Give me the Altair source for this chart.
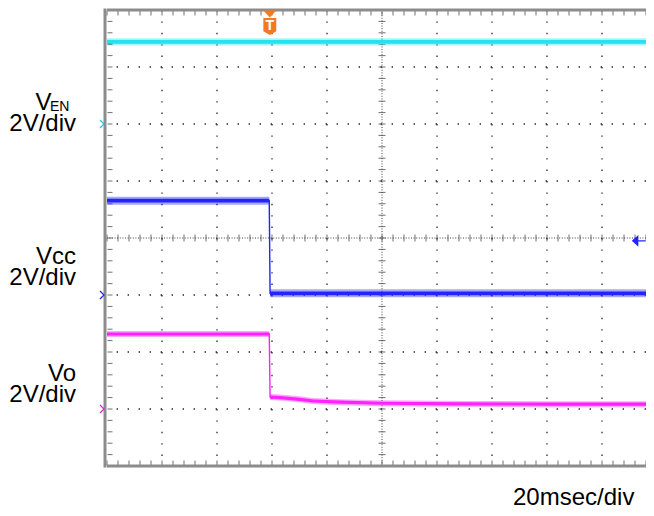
import altair as alt
import pandas as pd

# ---------------- data (time in ms, 20 ms/div; voltage in V, 2 V/div) ----------------
T_MAX = 196.0
ven_t = [0.0, 196.0]
ven_v = [6.88, 6.88]
vcc_t = [0.0, 59.0, 59.3, 196.0]
vcc_v = [1.31, 1.31, -1.94, -1.94]
vo_t = [0.0, 59.0, 59.3, 63.0, 70.0, 75.0, 85.0, 100.0, 130.0, 160.0, 196.0]
vo_v = [-3.37, -3.37, -5.58, -5.60, -5.66, -5.72, -5.76, -5.80, -5.82, -5.83, -5.83]

ground_levels = [4.0, -2.0, -6.0]          # channel zero markers (VEN, Vcc, Vo)
trigger_time = 59.2
trigger_level = -0.1

grid_t = [20, 40, 60, 80, 120, 140, 160, 180]
grid_v = [-6, -4, -2, 2, 4, 6]
center_t = 100
center_v = 0
minor_t = [4 * i for i in range(50)]
minor_v = [round(-8 + 0.4 * i, 2) for i in range(41)]

# ---------------- scales ----------------
xs = alt.Scale(domain=[0, T_MAX], nice=False, zero=False)
ys = alt.Scale(domain=[-8, 8], nice=False, zero=False)


def X(f):
    return alt.X(f, type="quantitative", scale=xs, axis=None)


def Y(f):
    return alt.Y(f, type="quantitative", scale=ys, axis=None)


FONT = "Liberation Sans"
DOT = "#262626"
BORDER = "#8c8c8c"

layers = []

# grid dots
layers.append(alt.Chart(pd.DataFrame({"t": grid_t})).mark_rule(
    color=DOT, strokeWidth=1.3, strokeDash=[1.4, 10.0]).encode(x=X("t")))
layers.append(alt.Chart(pd.DataFrame({"v": grid_v})).mark_rule(
    color=DOT, strokeWidth=1.3, strokeDash=[1.4, 9.6]).encode(y=Y("v")))
# centre lines
layers.append(alt.Chart(pd.DataFrame({"t": [center_t]})).mark_rule(
    color="#444444", strokeWidth=1, strokeDash=[1, 1.6]).encode(x=X("t")))
layers.append(alt.Chart(pd.DataFrame({"v": [center_v]})).mark_rule(
    color="#444444", strokeWidth=1, strokeDash=[1, 1.6]).encode(y=Y("v")))
# centre cross ticks
layers.append(alt.Chart(pd.DataFrame({"t": minor_t, "v": [center_v] * len(minor_t)})).mark_tick(
    color="#333333", orient="vertical", size=7, thickness=1).encode(x=X("t"), y=Y("v")))
layers.append(alt.Chart(pd.DataFrame({"v": minor_v, "t": [center_t] * len(minor_v)})).mark_tick(
    color="#333333", orient="horizontal", size=7, thickness=1).encode(y=Y("v"), x=X("t")))


# traces: a soft noise band, a solid core and a thin centre line
def trace(ts, vs, color, w_out, w_in):
    df = pd.DataFrame({"t": ts, "v": vs})
    df["lo_o"] = df["v"] - w_out
    df["hi_o"] = df["v"] + w_out
    df["lo_i"] = df["v"] - w_in
    df["hi_i"] = df["v"] + w_in
    base = alt.Chart(df)
    outer = base.mark_area(color=color, opacity=0.4).encode(
        x=X("t"), y=Y("lo_o"), y2="hi_o")
    inner = base.mark_area(color=color, opacity=1).encode(
        x=X("t"), y=Y("lo_i"), y2="hi_i")
    line = base.mark_line(color=color, strokeWidth=1.4).encode(x=X("t"), y=Y("v"))
    return [outer, inner, line]


layers += trace(ven_t, ven_v, "#22e3ee", 0.125, 0.065)
layers += trace(vcc_t, vcc_v, "#2424ff", 0.14, 0.065)
layers += trace(vo_t, vo_v, "#ff22ff", 0.105, 0.055)

# border ticks (inside)
layers.append(alt.Chart(pd.DataFrame({"t": minor_t, "v": [8] * len(minor_t)})).mark_tick(
    color="#333333", orient="vertical", size=5, thickness=1, yOffset=3).encode(x=X("t"), y=Y("v")))
layers.append(alt.Chart(pd.DataFrame({"t": minor_t, "v": [-8] * len(minor_t)})).mark_tick(
    color="#333333", orient="vertical", size=5, thickness=1, yOffset=-3).encode(x=X("t"), y=Y("v")))
layers.append(alt.Chart(pd.DataFrame({"v": minor_v, "t": [0] * len(minor_v)})).mark_tick(
    color="#333333", orient="horizontal", size=5, thickness=1, xOffset=3).encode(y=Y("v"), x=X("t")))

# frame
hframe = pd.DataFrame({"t0": [0, 0], "t1": [T_MAX, T_MAX], "v": [8, -8], "off": [-1, 1]})
layers.append(alt.Chart(hframe).mark_rule(color=BORDER, strokeWidth=3).encode(
    x=X("t0"), x2="t1:Q", y=Y("v"), yOffset=alt.YOffset("off:Q", scale=None)))
vframe = pd.DataFrame({"t": [0], "v0": [-8.05], "v1": [8.05]})
layers.append(alt.Chart(vframe).mark_rule(color=BORDER, strokeWidth=3, xOffset=-2).encode(
    x=X("t"), y=Y("v0"), y2="v1:Q"))

# ground markers
gm = pd.DataFrame({"v": ground_levels, "c": ["VEN", "Vcc", "Vo"], "t": [0, 0, 0]})
layers.append(alt.Chart(gm).mark_point(
    shape="M-0.5,-1L0.5,0L-0.5,1", filled=False, strokeWidth=1.2, size=64, xOffset=-5, opacity=1).encode(
    x=X("t"), y=Y("v"),
    color=alt.Color("c:N", scale=alt.Scale(domain=["VEN", "Vcc", "Vo"],
                                           range=["#22c8d8", "#2424ff", "#e020e0"]), legend=None)))

# trigger marker
trig = pd.DataFrame({"t": [trigger_time], "v": [8]})
layers.append(alt.Chart(trig).mark_point(
    shape="M-1,-0.55L1,-0.55L0,0.55Z", filled=True, size=169, color="#f47a1f", opacity=1, yOffset=4).encode(
    x=X("t"), y=Y("v")))
layers.append(alt.Chart(trig).mark_point(
    shape="M-0.76,-1L0.76,-1L0.76,0.55L0,1L-0.76,0.55Z", filled=True, size=289, color="#f47a1f",
    opacity=1, yOffset=16.5).encode(x=X("t"), y=Y("v")))
layers.append(alt.Chart(trig).mark_text(
    text="T", color="white", font=FONT, fontWeight="bold", fontSize=14, baseline="middle",
    yOffset=15.5).encode(x=X("t"), y=Y("v")))

# trigger level arrow
lvl = pd.DataFrame({"t": [193.0], "v": [trigger_level]})
layers.append(alt.Chart(lvl).mark_point(
    shape="M-1,0L0.1,-1L0.1,-0.12L1.3,-0.12L1.3,0.12L0.1,0.12L0.1,1Z", filled=True, size=140,
    color="#2424ff", opacity=1).encode(x=X("t"), y=Y("v")))


# text labels
def label(txt, x, y, size=24, align="right"):
    return alt.Chart(pd.DataFrame({"s": [txt]})).mark_text(
        font=FONT, fontSize=size, align=align, baseline="alphabetic", color="black").encode(
        text="s:N", x=alt.value(x), y=alt.value(y))


layers += [
    label("V", -55.5, 100),
    label("EN", -57, 101, size=14, align="left"),
    label("2V/div", -31, 121),
    label("Vcc", -31, 254),
    label("2V/div", -31, 275),
    label("Vo", -31, 371),
    label("2V/div", -31, 392),
    label("20msec/div", 406, 495, align="left"),
]

chart = alt.layer(*layers).properties(
    width=539, height=456,
    padding={"left": 99, "top": 2, "right": 0, "bottom": 44},
    autosize=alt.AutoSizeParams(type="none"),
).configure_view(stroke=None)

chart.save("out.html", embed_options={"renderer": "svg", "actions": False})
